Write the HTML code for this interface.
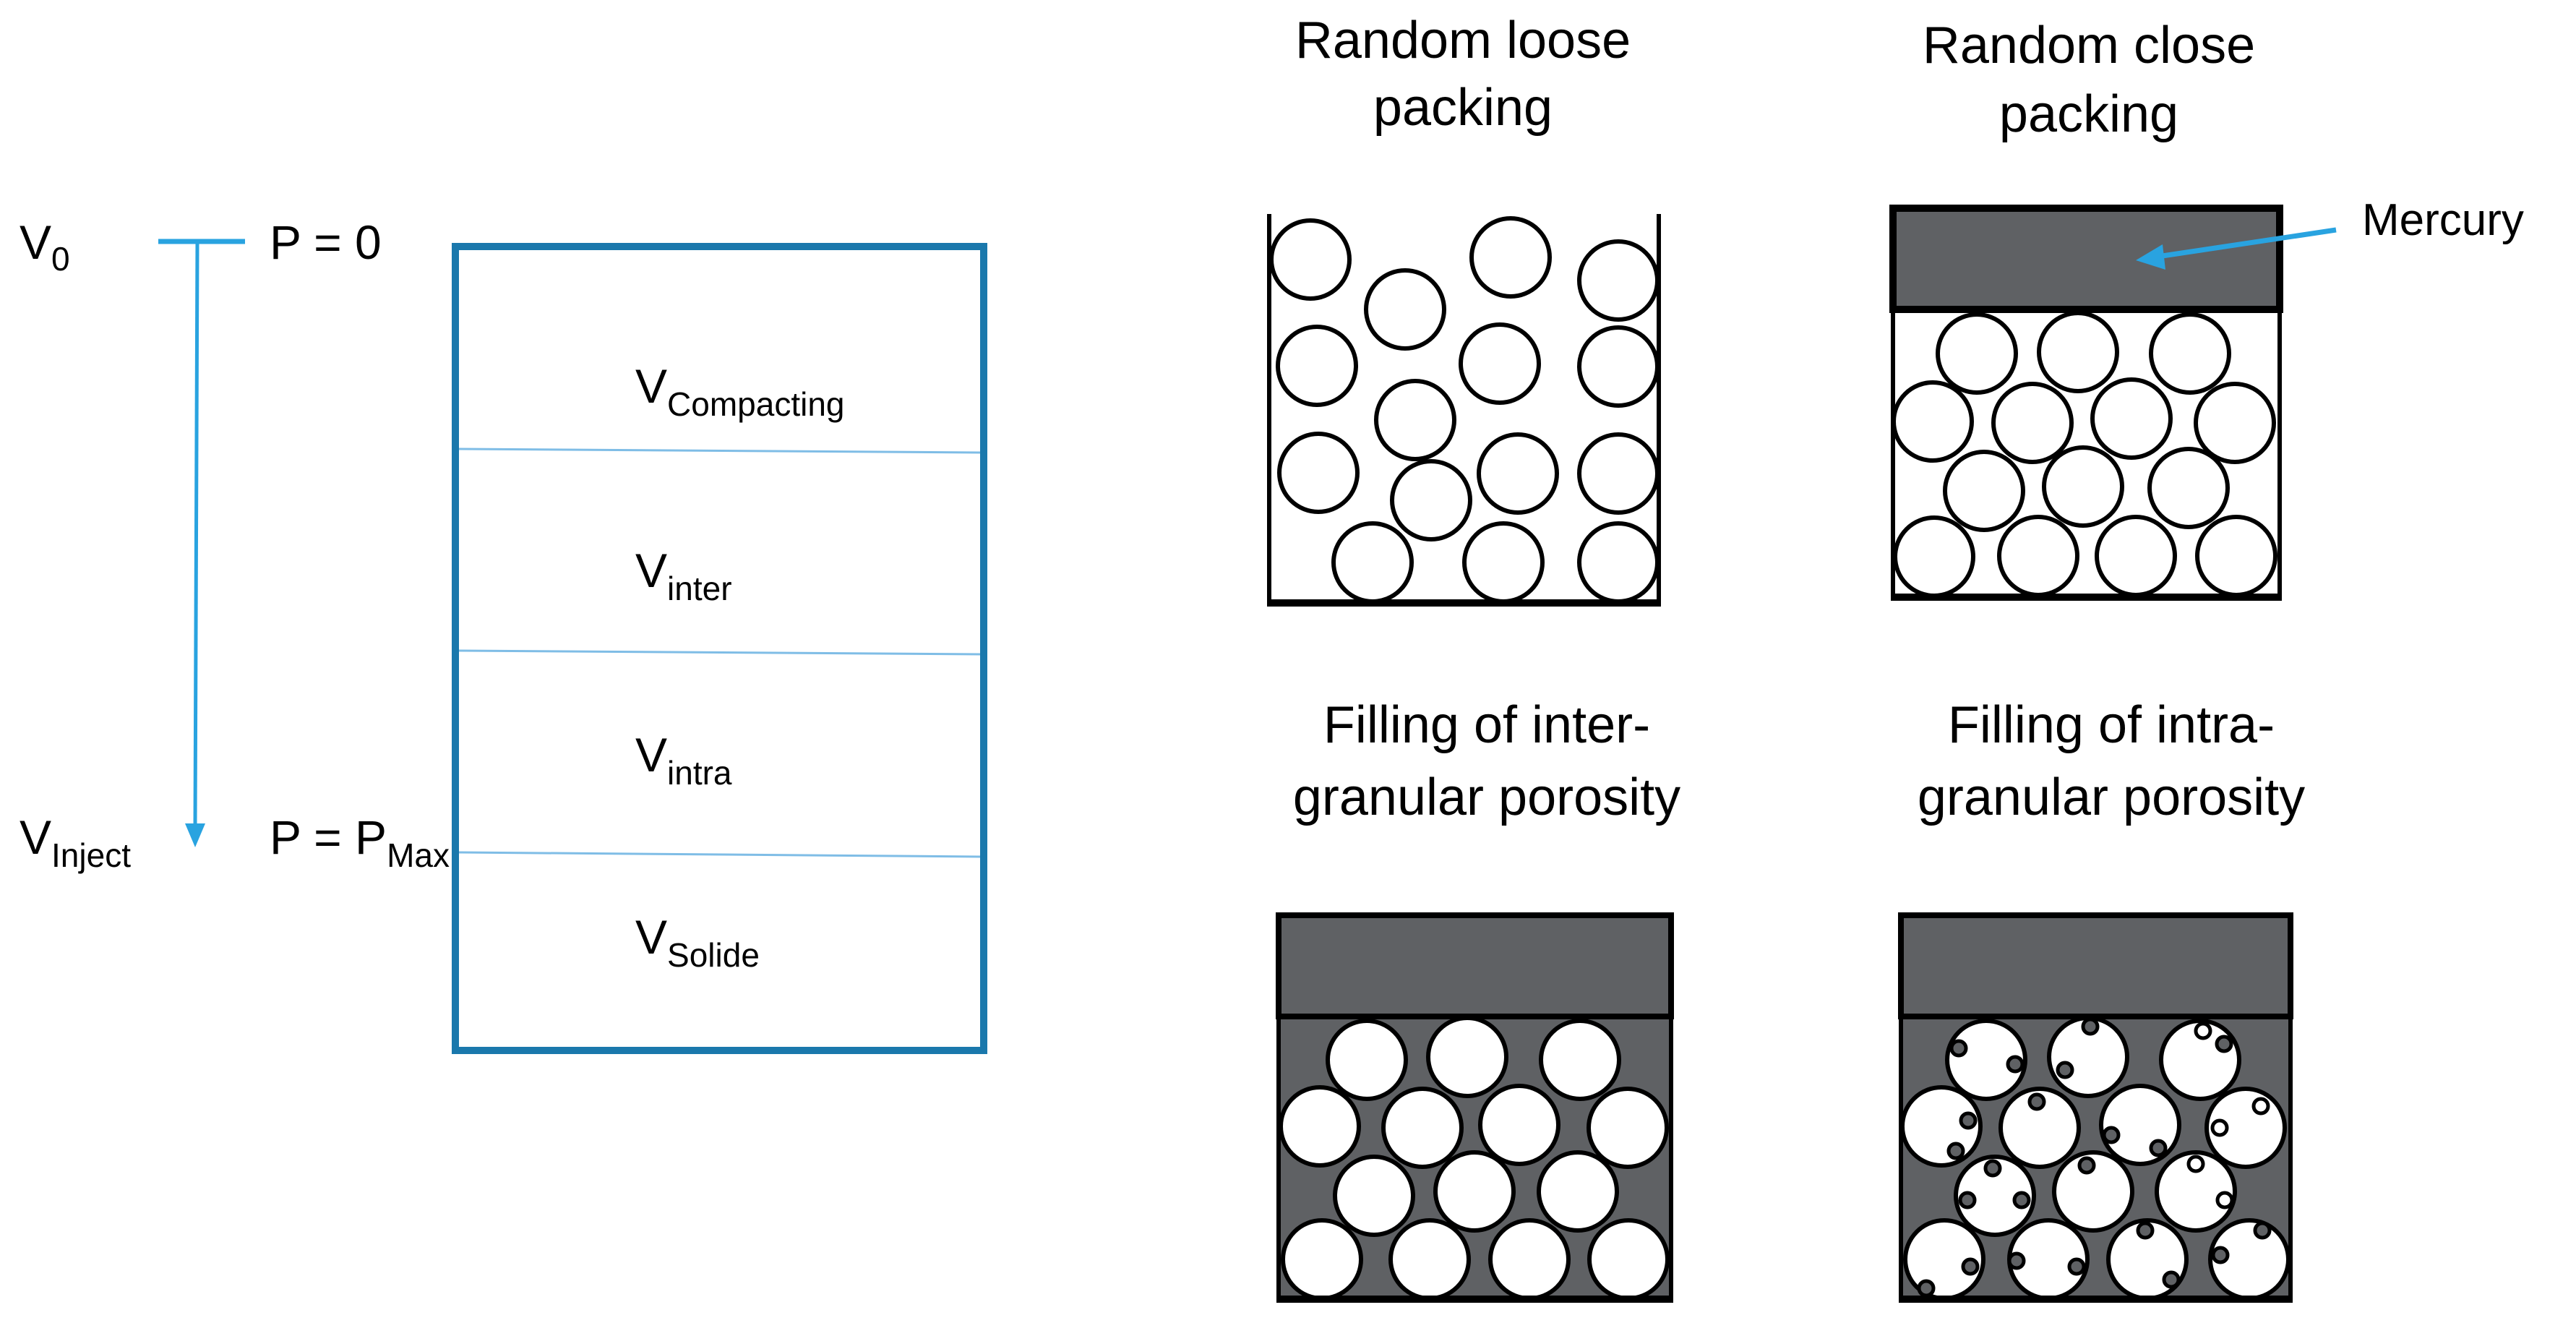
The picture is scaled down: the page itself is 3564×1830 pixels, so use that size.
<!DOCTYPE html>
<html><head><meta charset="utf-8"><style>
html,body{margin:0;padding:0;background:#fff;}
svg{display:block;}
text{font-family:"Liberation Sans",sans-serif;fill:#000;}
.c circle{r:54px;}
</style></head><body>
<svg width="3564" height="1830" viewBox="0 0 3564 1830" xmlns="http://www.w3.org/2000/svg">
<g font-size="66">
<text x="27" y="358">V<tspan font-size="46" dy="16">0</tspan></text>
<text x="373" y="358">P = 0</text>
<text x="27" y="1181">V<tspan font-size="46" dy="18">Inject</tspan></text>
<text x="373" y="1181">P = P<tspan font-size="46" dy="18">Max</tspan></text>
<text x="879" y="557">V<tspan font-size="46" dy="18">Compacting</tspan></text>
<text x="879" y="812">V<tspan font-size="46" dy="18">inter</tspan></text>
<text x="879" y="1067">V<tspan font-size="46" dy="18">intra</tspan></text>
<text x="879" y="1319">V<tspan font-size="46" dy="18">Solide</tspan></text>
</g>
<line x1="219" y1="334" x2="339" y2="334" stroke="#29a3e0" stroke-width="7"/>
<line x1="273" y1="334" x2="270" y2="1145" stroke="#29a3e0" stroke-width="5"/>
<polygon points="256,1139 284,1139 270,1172" fill="#29a3e0"/>
<rect x="630" y="341" width="731" height="1112" fill="none" stroke="#1a78ac" stroke-width="10"/>
<line x1="635" y1="621" x2="1356" y2="626" stroke="#7fbde6" stroke-width="3"/>
<line x1="635" y1="900" x2="1356" y2="905" stroke="#7fbde6" stroke-width="3"/>
<line x1="635" y1="1179" x2="1356" y2="1185" stroke="#7fbde6" stroke-width="3"/>

<g font-size="72" text-anchor="middle">
<text x="2024" y="80">Random loose</text>
<text x="2024" y="173">packing</text>
<text x="2890" y="87">Random close</text>
<text x="2890" y="182">packing</text>
<text x="2057" y="1027">Filling of inter-</text>
<text x="2057" y="1127">granular porosity</text>
<text x="2921" y="1027">Filling of intra-</text>
<text x="2921" y="1127">granular porosity</text>
</g>
<text x="3268" y="325" font-size="62">Mercury</text>

<g class="c" fill="#fff" stroke="#000" stroke-width="6">
<circle cx="1813" cy="359" r="54"/><circle cx="1944" cy="428" r="54"/><circle cx="2090" cy="356" r="54"/><circle cx="2239" cy="388" r="54"/>
<circle cx="1822" cy="506" r="54"/><circle cx="2075" cy="503" r="54"/><circle cx="2239" cy="507" r="54"/><circle cx="1958" cy="581" r="54"/>
<circle cx="1824" cy="654" r="54"/><circle cx="2100" cy="655" r="54"/><circle cx="2239" cy="655" r="54"/><circle cx="1980" cy="692" r="54"/>
<circle cx="1899" cy="778" r="54"/><circle cx="2080" cy="778" r="54"/><circle cx="2239" cy="778" r="54"/>
</g>
<line x1="1756" y1="296" x2="1756" y2="838" stroke="#000" stroke-width="6"/>
<line x1="2295" y1="296" x2="2295" y2="838" stroke="#000" stroke-width="6"/>
<line x1="1753" y1="834" x2="2298" y2="834" stroke="#000" stroke-width="10"/>

<rect x="2619" y="288" width="535" height="140" fill="#5f6164" stroke="#000" stroke-width="10"/>
<g class="c" fill="#fff" stroke="#000" stroke-width="6">
<circle cx="2735" cy="489" r="54"/><circle cx="2875" cy="487" r="54"/><circle cx="3030" cy="489" r="54"/>
<circle cx="2674" cy="583" r="54"/><circle cx="2812" cy="585" r="54"/><circle cx="2949" cy="579" r="54"/><circle cx="3092" cy="585" r="54"/>
<circle cx="2745" cy="679" r="54"/><circle cx="2882" cy="673" r="54"/><circle cx="3028" cy="675" r="54"/>
<circle cx="2676" cy="770" r="54"/><circle cx="2820" cy="769" r="54"/><circle cx="2955" cy="769" r="54"/><circle cx="3094" cy="769" r="54"/>
</g>
<line x1="2619" y1="430" x2="2619" y2="830" stroke="#000" stroke-width="6"/>
<line x1="3154" y1="430" x2="3154" y2="830" stroke="#000" stroke-width="6"/>
<line x1="2616" y1="826" x2="3157" y2="826" stroke="#000" stroke-width="10"/>
<line x1="3232" y1="318" x2="2985" y2="355" stroke="#29a3e0" stroke-width="7"/>
<polygon points="2955,360 2992,338 2996,373" fill="#29a3e0"/>

<rect x="1769" y="1263" width="543" height="537" fill="#5f6164"/>
<g class="c" fill="#fff" stroke="#000" stroke-width="6">
<circle cx="1891" cy="1466" r="54"/><circle cx="2030" cy="1462" r="54"/><circle cx="2186" cy="1466" r="54"/>
<circle cx="1826" cy="1558" r="54"/><circle cx="1968" cy="1560" r="54"/><circle cx="2102" cy="1556" r="54"/><circle cx="2252" cy="1560" r="54"/>
<circle cx="1901" cy="1654" r="54"/><circle cx="2040" cy="1648" r="54"/><circle cx="2183" cy="1648" r="54"/>
<circle cx="1829" cy="1742" r="54"/><circle cx="1978" cy="1742" r="54"/><circle cx="2116" cy="1742" r="54"/><circle cx="2253" cy="1742" r="54"/>
</g>
<rect x="1769" y="1266" width="543" height="140" fill="#5f6164" stroke="#000" stroke-width="8"/>
<line x1="1769" y1="1406" x2="1769" y2="1800" stroke="#000" stroke-width="6"/>
<line x1="2312" y1="1406" x2="2312" y2="1800" stroke="#000" stroke-width="6"/>
<line x1="1766" y1="1797" x2="2315" y2="1797" stroke="#000" stroke-width="10"/>
<rect x="1760" y="1802" width="560" height="28" fill="#fff"/>

<rect x="2630" y="1263" width="539" height="537" fill="#5f6164"/>
<g class="c" fill="#fff" stroke="#000" stroke-width="6">
<circle cx="2748" cy="1466" r="54"/><circle cx="2889" cy="1462" r="54"/><circle cx="3044" cy="1466" r="54"/>
<circle cx="2686" cy="1558" r="54"/><circle cx="2822" cy="1560" r="54"/><circle cx="2961" cy="1556" r="54"/><circle cx="3107" cy="1560" r="54"/>
<circle cx="2760" cy="1654" r="54"/><circle cx="2896" cy="1648" r="54"/><circle cx="3038" cy="1648" r="54"/>
<circle cx="2690" cy="1742" r="54"/><circle cx="2834" cy="1742" r="54"/><circle cx="2971" cy="1742" r="54"/><circle cx="3112" cy="1742" r="54"/>
</g>
<g fill="#5f6164" stroke="#000" stroke-width="5">
<circle cx="2710" cy="1450" r="10"/><circle cx="2788" cy="1472" r="10"/>
<circle cx="2892" cy="1420" r="10"/><circle cx="2857" cy="1480" r="10"/>
<circle cx="3077" cy="1444" r="10"/><circle cx="3048" cy="1426" r="10" fill="#fff"/>
<circle cx="2723" cy="1550" r="10"/><circle cx="2706" cy="1592" r="10"/>
<circle cx="2818" cy="1524" r="10"/>
<circle cx="2921" cy="1570" r="10"/><circle cx="2986" cy="1588" r="10"/>
<circle cx="3128" cy="1530" r="10" fill="#fff"/><circle cx="3071" cy="1560" r="10" fill="#fff"/>
<circle cx="2757" cy="1616" r="10"/><circle cx="2722" cy="1660" r="10"/><circle cx="2797" cy="1660" r="10"/>
<circle cx="2887" cy="1612" r="10"/>
<circle cx="3038" cy="1610" r="10" fill="#fff"/><circle cx="3078" cy="1660" r="10" fill="#fff"/>
<circle cx="2726" cy="1752" r="10"/><circle cx="2665" cy="1782" r="10"/>
<circle cx="2790" cy="1744" r="10"/><circle cx="2873" cy="1752" r="10"/>
<circle cx="2968" cy="1702" r="10"/><circle cx="3004" cy="1770" r="10"/>
<circle cx="3130" cy="1702" r="10"/><circle cx="3072" cy="1736" r="10"/>
</g>
<rect x="2630" y="1266" width="539" height="140" fill="#5f6164" stroke="#000" stroke-width="8"/>
<line x1="2630" y1="1406" x2="2630" y2="1800" stroke="#000" stroke-width="6"/>
<line x1="3169" y1="1406" x2="3169" y2="1800" stroke="#000" stroke-width="6"/>
<line x1="2627" y1="1797" x2="3172" y2="1797" stroke="#000" stroke-width="10"/>
<rect x="2620" y="1802" width="560" height="28" fill="#fff"/>
</svg>
</body></html>
